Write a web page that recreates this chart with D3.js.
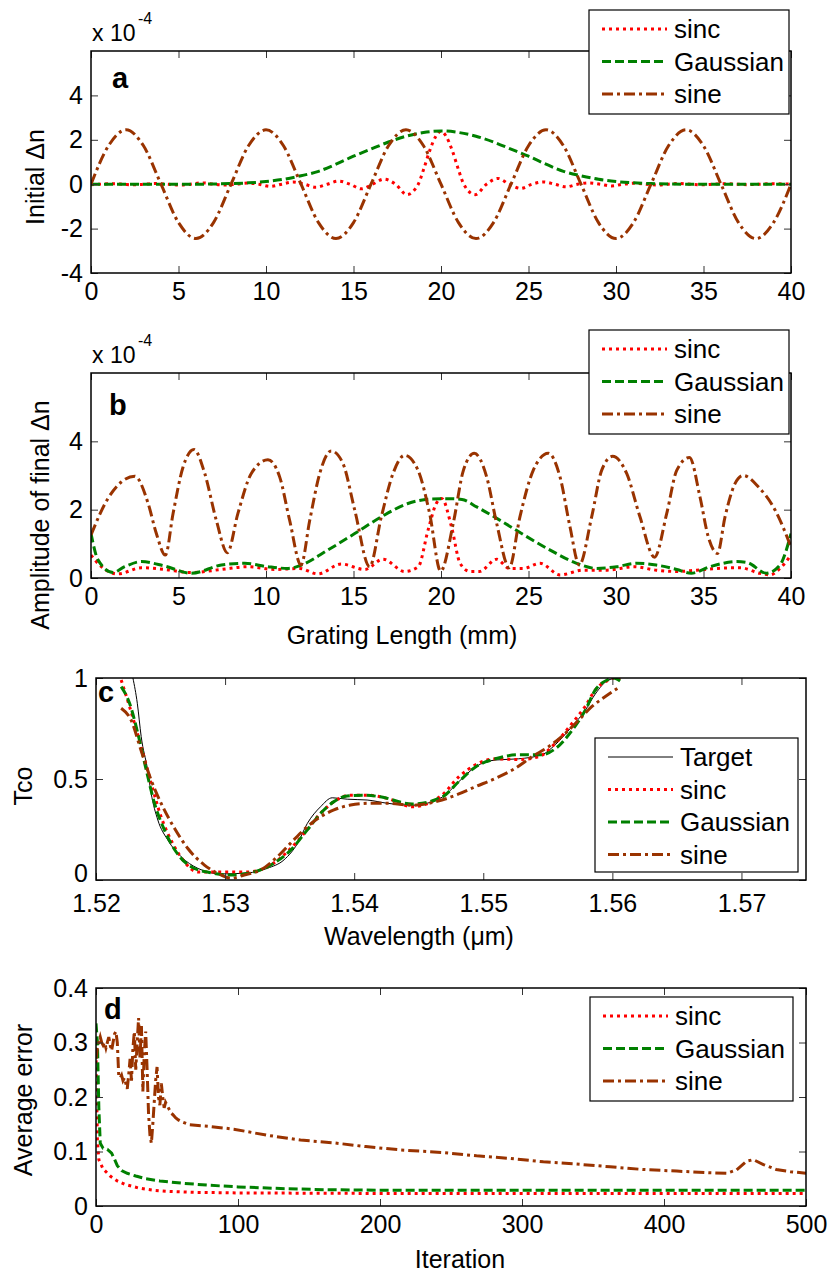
<!DOCTYPE html>
<html>
<head>
<meta charset="utf-8">
<script src="https://cdn.jsdelivr.net/npm/d3@7"></script>
<style>
body { margin: 0; background: #fff; }
text { font-family: "Liberation Sans", Arial, sans-serif; fill: #000; }
</style>
</head>
<body>
<div id="chart"></div>
<script>
// ---- panel a : initial index change (x 1e-4) ----
var gridA = d3.range(0, 41);
var sineA = [0, 1.73, 2.45, 1.73, 0, -1.73, -2.45, -1.73, 0, 1.73, 2.45, 1.73, 0, -1.73, -2.45, -1.73,
             0, 1.73, 2.45, 1.73, 0, -1.73, -2.45, -1.73, 0, 1.73, 2.45, 1.73, 0, -1.73, -2.45, -1.73,
             0, 1.73, 2.45, 1.73, 0, -1.73, -2.45, -1.73, 0];
var gaussA = [0, 0, 0, 0, 0, 0, 0, 0.01, 0.03, 0.06, 0.12, 0.22, 0.38, 0.58, 0.9, 1.26, 1.58, 1.9, 2.16, 2.33,
              2.4, 2.33, 2.16, 1.9, 1.58, 1.26, 0.9, 0.58, 0.38, 0.22, 0.12, 0.06, 0.03, 0.01, 0, 0, 0, 0, 0, 0, 0];
var sincAx = [0, 0.5, 1.15, 1.8, 2.45, 3.1, 3.75, 4.4, 5.05, 5.7, 6.35, 7.0, 7.65, 8.3, 8.95, 9.6, 10.25, 10.9,
              11.55, 12.2, 12.85, 13.5, 14.15, 14.8, 15.45, 16.1, 16.75, 17.4, 18.05, 18.7, 19.0, 19.35, 19.7, 20,
              20.3, 20.65, 21.0, 21.3, 21.95, 22.6, 23.25, 23.9, 24.55, 25.2, 25.85, 26.5, 27.15, 27.8, 28.45, 29.1,
              29.75, 30.4, 31.05, 31.7, 32.35, 33.0, 33.65, 34.3, 34.95, 35.6, 36.25, 36.9, 37.55, 38.2, 38.85, 40];
var sincAy = [-0.03, 0, 0.02, 0, -0.03, 0, 0.03, 0, -0.04, 0, 0.06, 0, -0.04, 0, 0.05, 0, -0.1, 0,
              0.1, 0, -0.14, 0, 0.14, 0, -0.21, 0, 0.23, 0, -0.47, 0, 0.65, 1.5, 2.15, 2.38,
              2.15, 1.5, 0.65, 0, -0.47, 0, 0.26, 0, -0.19, 0, 0.1, 0, -0.12, 0, 0.06, 0,
              -0.08, 0, 0.04, 0, -0.04, 0, 0.03, 0, -0.03, 0, 0.02, 0, -0.02, 0, 0.02, 0];

// ---- panel b : amplitude of final index change (x 1e-4) ----
var sineBx = [0, 0.97, 1.73, 2.5, 3.26, 3.73, 4.25, 4.69, 5.26, 5.89, 6.5, 7.16, 7.79, 8.4, 9.16, 10.11, 10.78,
              11.35, 12.0, 12.5, 13.07, 13.73, 14.4, 15.07, 15.92, 16.59, 17.26, 17.92, 18.69, 19.35, 19.98, 20.7,
              21.28, 21.9, 22.61, 23.18, 23.9, 24.51, 25.27, 26.13, 26.8, 27.37, 27.9, 28.61, 29.18, 29.8, 30.61,
              31.37, 32.2, 32.9, 33.47, 34.2, 34.8, 35.27, 35.8, 36.23, 36.8, 37.27, 38.13, 39.09, 40];
var sineBy = [1.26, 2.33, 2.81, 2.98, 2.19, 1.31, 0.67, 1.89, 3.25, 3.76, 3.06, 1.69, 0.74, 1.9, 3.06, 3.46, 2.96,
              1.69, 0.38, 1.69, 3.06, 3.72, 3.35, 1.99, 0.33, 1.79, 3.06, 3.59, 3.15, 1.89, 0.2, 1.6,
              3.15, 3.65, 2.96, 1.6, 0.3, 1.79, 3.15, 3.65, 2.96, 1.5, 0.38, 1.79, 3.15, 3.56, 3.06,
              1.79, 0.61, 1.89, 3.15, 3.53, 2.37, 1.21, 0.72, 1.79, 2.76, 3.0, 2.67, 1.99, 0.91];
var gaussBx = [0, 0.4, 1.26, 1.92, 2.88, 4.2, 5.73, 7.45, 8.78, 10.11, 11.26, 12.02, 13.54, 15.07, 16.59, 18.11,
               19.45, 20.5, 21.2, 22.04, 23.37, 24.9, 26.4, 27.75, 28.9, 30.04, 31.18, 32.3, 33.47, 34.3, 35.37,
               36.9, 37.5, 38.6, 39.37, 40];
var gaussBy = [1.3, 0.53, 0.16, 0.33, 0.48, 0.35, 0.14, 0.38, 0.43, 0.33, 0.28, 0.38, 0.82, 1.3, 1.79, 2.18,
               2.31, 2.32, 2.3, 2.08, 1.69, 1.21, 0.77, 0.43, 0.28, 0.33, 0.43, 0.38, 0.25, 0.14, 0.33,
               0.48, 0.45, 0.14, 0.38, 1.3];
var sincBx = [0, 0.59, 1.54, 2.88, 4.2, 5.73, 7.45, 8.97, 10.5, 11.9, 12.97, 14.3, 15.64, 16.69, 17.92, 18.7,
              19.26, 19.73, 20.04, 20.6, 21.09, 21.66, 22.2, 23.18, 23.9, 24.7, 25.66, 26.8, 28.13, 29.5, 31.0,
              32.3, 33.47, 34.6, 35.8, 37.1, 38.2, 38.8, 39.37, 40];
var sincBy = [0.67, 0.33, 0.12, 0.3, 0.25, 0.16, 0.25, 0.33, 0.25, 0.28, 0.12, 0.41, 0.25, 0.55, 0.19, 0.33,
              1.4, 2.18, 2.33, 1.5, 0.43, 0.19, 0.19, 0.55, 0.28, 0.28, 0.43, 0.09, 0.23, 0.23, 0.33,
              0.23, 0.19, 0.23, 0.28, 0.3, 0.14, 0.09, 0.28, 0.67];

// ---- panel c : transmission spectra ----
var targetCx = [1.52286, 1.5232, 1.5235, 1.524, 1.52427, 1.52479, 1.52556, 1.5266, 1.52788, 1.52968, 1.53174,
                1.53328, 1.53457, 1.5356, 1.53637, 1.5374, 1.5383, 1.53946, 1.541, 1.54255, 1.5445, 1.54682,
                1.54811, 1.5494, 1.55094, 1.55274, 1.55454, 1.55558, 1.55687, 1.5579, 1.55867, 1.5597, 1.56046];
var targetCy = [1.0, 0.875, 0.71, 0.545, 0.43, 0.297, 0.198, 0.115, 0.058, 0.03, 0.035,
                0.058, 0.1, 0.18, 0.28, 0.363, 0.407, 0.4, 0.396, 0.38, 0.37, 0.41,
                0.487, 0.56, 0.594, 0.6, 0.62, 0.67, 0.76, 0.84, 0.92, 0.99, 1.0];
var sincCx = [1.52195, 1.5226, 1.5235, 1.52427, 1.52504, 1.52595, 1.52685, 1.52788, 1.52968, 1.53174, 1.53328,
              1.53483, 1.53611, 1.5374, 1.53843, 1.53972, 1.541, 1.54255, 1.5445, 1.5468, 1.5481, 1.5494,
              1.55094, 1.55274, 1.55428, 1.55558, 1.55687, 1.5579, 1.55867, 1.5597, 1.56021, 1.5606];
var sincCy = [0.99, 0.858, 0.66, 0.48, 0.313, 0.18, 0.09, 0.04, 0.04, 0.04, 0.065,
              0.14, 0.23, 0.33, 0.388, 0.42, 0.42, 0.404, 0.363, 0.42, 0.51, 0.57,
              0.6, 0.596, 0.61, 0.677, 0.775, 0.86, 0.94, 0.99, 1.0, 0.99];
var gaussCx = [1.52195, 1.5226, 1.52324, 1.52389, 1.52453, 1.5253, 1.5262, 1.52736, 1.5289, 1.53045, 1.532,
               1.53354, 1.53508, 1.53637, 1.5374, 1.53843, 1.53946, 1.54075, 1.54203, 1.5445, 1.5468, 1.5481,
               1.5494, 1.55094, 1.55274, 1.55454, 1.55558, 1.55687, 1.5579, 1.55867, 1.5596, 1.5601, 1.5606];
var gaussCy = [0.957, 0.875, 0.726, 0.545, 0.38, 0.248, 0.14, 0.066, 0.036, 0.025, 0.036,
               0.074, 0.148, 0.248, 0.33, 0.388, 0.416, 0.42, 0.412, 0.376, 0.41, 0.487,
               0.56, 0.6, 0.62, 0.62, 0.65, 0.74, 0.84, 0.94, 0.99, 1.0, 0.985];
var sineCx = [1.52195, 1.52273, 1.5235, 1.52427, 1.52517, 1.52608, 1.5271, 1.5284, 1.52968, 1.53045, 1.53148,
              1.53277, 1.53405, 1.53534, 1.53637, 1.5374, 1.53843, 1.53972, 1.54126, 1.54255, 1.5445, 1.5468,
              1.5481, 1.5494, 1.55094, 1.55248, 1.55377, 1.55506, 1.55635, 1.55737, 1.5584, 1.55943, 1.5606];
var sineCy = [0.85, 0.79, 0.64, 0.495, 0.363, 0.256, 0.157, 0.074, 0.025, 0.008, 0.025,
              0.05, 0.115, 0.2, 0.264, 0.313, 0.347, 0.371, 0.38, 0.38, 0.37, 0.396,
              0.426, 0.462, 0.503, 0.553, 0.61, 0.66, 0.726, 0.79, 0.858, 0.907, 0.957];

// ---- panel d : average error vs iteration ----
var sincDx = [0, 1, 2, 5, 10, 15, 20, 30, 40, 50, 70, 100, 200, 300, 400, 500];
var sincDy = [0.28, 0.12, 0.085, 0.068, 0.055, 0.046, 0.04, 0.033, 0.029, 0.027, 0.025, 0.024, 0.023, 0.023, 0.023, 0.023];
var gaussDx = [0, 1, 2, 3, 5, 8, 11, 13, 15, 18, 22, 28, 35, 45, 60, 80, 100, 130, 160, 200, 300, 400, 500];
var gaussDy = [0.335, 0.3, 0.18, 0.115, 0.106, 0.104, 0.097, 0.086, 0.074, 0.065, 0.06, 0.055, 0.05, 0.046,
               0.042, 0.038, 0.035, 0.032, 0.03, 0.029, 0.029, 0.029, 0.029];
var sineDx = [0, 1, 2, 3, 4, 5, 6, 7, 8, 9, 10, 11, 12, 13, 14, 15, 16, 17, 18, 19, 20, 21, 22, 23, 24, 25, 26,
              27, 28, 29, 30, 31, 32, 33, 34, 35, 36, 37, 38, 39, 40, 41, 42, 43, 44, 45, 46, 47, 48, 49, 50,
              51, 52, 53, 54, 55, 56, 58, 60, 66, 80, 97, 120, 144, 167, 190, 214, 245, 268, 291, 315, 338,
              362, 385, 409, 432, 444, 451, 458, 463, 470, 479, 489, 500];
var sineDy = [0.27, 0.29, 0.3, 0.31, 0.3, 0.295, 0.3, 0.29, 0.3, 0.31, 0.295, 0.285, 0.3, 0.315, 0.32, 0.3,
              0.24, 0.235, 0.24, 0.23, 0.235, 0.225, 0.215, 0.24, 0.27, 0.23, 0.29, 0.32, 0.25, 0.3, 0.345,
              0.27, 0.33, 0.21, 0.28, 0.32, 0.25, 0.17, 0.13, 0.115, 0.15, 0.19, 0.23, 0.255, 0.2, 0.185,
              0.225, 0.2, 0.18, 0.19, 0.185, 0.18, 0.175, 0.17, 0.168, 0.165, 0.162, 0.158, 0.155, 0.149,
              0.146, 0.141, 0.13, 0.121, 0.116, 0.109, 0.103, 0.098, 0.092, 0.0875, 0.081, 0.077, 0.072,
              0.067, 0.064, 0.061, 0.06, 0.066, 0.082, 0.085, 0.076, 0.067, 0.063, 0.06];

var labels = { target: "Target", sinc: "sinc", gauss: "Gaussian", sine: "sine" };
var colors = { target: "#000000", sinc: "#ff0000", gauss: "#008000", sine: "#993300" };
var dashes = { target: null, sinc: "3,4", gauss: "9,4", sine: "11,4,3,4" };
var widths = { target: 1, sinc: 3, gauss: 3, sine: 3 };

// matlab prints a plain hyphen, not the unicode minus
var intFmt = function(d) { return String(d); };

var svg = d3.select("#chart").append("svg")
  .attr("width", 830)
  .attr("height", 1272);

svg.append("rect").attr("width", 830).attr("height", 1272).attr("fill", "#fff");

function panel(o) {
  var x = d3.scaleLinear().domain(o.xDomain).range([o.left, o.right]);
  var y = d3.scaleLinear().domain(o.yDomain).range([o.bottom, o.top]);
  var g = svg.append("g");

  g.append("clipPath").attr("id", o.id)
    .append("rect")
    .attr("x", o.left).attr("y", o.top)
    .attr("width", o.right - o.left).attr("height", o.bottom - o.top);

  var line = d3.line()
    .x(d => x(d[0]))
    .y(d => y(d[1]))
    .curve(o.curve);

  o.series.forEach(function(s) {
    g.append("path")
      .attr("d", line(d3.zip(s.xs, s.ys)))
      .attr("clip-path", "url(#" + o.id + ")")
      .attr("fill", "none")
      .attr("stroke", colors[s.key])
      .attr("stroke-width", widths[s.key])
      .attr("stroke-dasharray", dashes[s.key]);
  });

  // axes with inward ticks on all four sides (matlab box)
  g.append("g").attr("transform", "translate(0," + o.bottom + ")")
    .call(d3.axisBottom(x).tickValues(o.xTicks).tickFormat(o.xFormat).tickSize(-7).tickSizeOuter(0).tickPadding(o.xPad || 9));
  var yAxis = g.append("g").attr("transform", "translate(" + o.left + ",0)")
    .call(d3.axisLeft(y).tickValues(o.yTicks).tickFormat(o.yFormat).tickSize(-7).tickSizeOuter(0).tickPadding(8));
  g.append("g").attr("transform", "translate(0," + o.top + ")")
    .call(d3.axisTop(x).tickValues(o.xTicks).tickFormat("").tickSize(-7).tickSizeOuter(0));
  g.append("g").attr("transform", "translate(" + o.right + ",0)")
    .call(d3.axisRight(y).tickValues(o.yTicks).tickFormat("").tickSize(-7).tickSizeOuter(0));

  // lift the bottom y label a little when it crowds the first x label
  if (o.liftZero) {
    yAxis.selectAll(".tick text").filter(d => d === o.yDomain[0]).attr("dy", "0.05em");
  }

  g.selectAll(".domain").remove();
  g.selectAll(".tick line").attr("stroke", "#333").attr("stroke-width", 1);
  g.selectAll(".tick text").style("font-size", "25px").style("font-family", "Liberation Sans, Arial, sans-serif").attr("fill", "#000");

  g.append("rect")
    .attr("x", o.left).attr("y", o.top)
    .attr("width", o.right - o.left).attr("height", o.bottom - o.top)
    .attr("fill", "none").attr("stroke", "#000").attr("stroke-width", 1.5);

  // panel letter
  g.append("text").attr("x", o.letterX).attr("y", o.letterY)
    .style("font-size", "29px").style("font-weight", "bold")
    .text(o.letter);

  // y label
  g.append("text")
    .attr("transform", "translate(" + o.yLabelX + "," + o.yLabelY + ") rotate(-90)")
    .attr("text-anchor", "middle")
    .style("font-size", "25px")
    .text(o.yLabel);

  if (o.xLabel) {
    g.append("text").attr("x", o.xLabelX).attr("y", o.xLabelY)
      .attr("text-anchor", "middle")
      .style("font-size", "25px")
      .text(o.xLabel);
  }

  if (o.exponent) {
    g.append("text").attr("x", o.left + 1).attr("y", o.expY)
      .style("font-size", "23px").text("x 10");
    g.append("text").attr("x", o.left + 47).attr("y", o.expY - 17)
      .style("font-size", "16px").text("-4");
  }

  // legend
  var L = o.legend;
  var lg = g.append("g");
  lg.append("rect")
    .attr("x", L.x).attr("y", L.y).attr("width", L.w).attr("height", L.h)
    .attr("fill", "#fff").attr("stroke", "#000").attr("stroke-width", 1.2);
  o.series.forEach(function(s, i) {
    var ry = L.y + 19 + i * 32.5;
    lg.append("line")
      .attr("x1", L.x + 13).attr("x2", L.x + 78)
      .attr("y1", ry).attr("y2", ry)
      .attr("stroke", colors[s.key])
      .attr("stroke-width", widths[s.key])
      .attr("stroke-dasharray", dashes[s.key]);
    lg.append("text")
      .attr("x", L.x + 85).attr("y", ry + 9)
      .style("font-size", "26px")
      .text(labels[s.key]);
  });
}

function main() {
  panel({
    id: "clipA", left: 91, right: 791, top: 51, bottom: 273,
    xDomain: [0, 40], yDomain: [-4, 6],
    xTicks: d3.range(0, 41, 5), yTicks: [-4, -2, 0, 2, 4],
    xFormat: intFmt, yFormat: intFmt,
    curve: d3.curveMonotoneX,
    series: [
      { key: "sinc", xs: sincAx, ys: sincAy },
      { key: "gauss", xs: gridA, ys: gaussA },
      { key: "sine", xs: gridA, ys: sineA }
    ],
    letter: "a", letterX: 112, letterY: 88,
    yLabel: "Initial \u0394n", yLabelX: 44, yLabelY: 177,
    exponent: true, expY: 41,
    legend: { x: 589, y: 10, w: 200, h: 104 }
  });

  panel({
    id: "clipB", left: 91, right: 791, top: 373, bottom: 578,
    xDomain: [0, 40], yDomain: [0, 6],
    xTicks: d3.range(0, 41, 5), yTicks: [0, 2, 4],
    xFormat: intFmt, yFormat: intFmt,
    curve: d3.curveMonotoneX,
    series: [
      { key: "sinc", xs: sincBx, ys: sincBy },
      { key: "gauss", xs: gaussBx, ys: gaussBy },
      { key: "sine", xs: sineBx, ys: sineBy }
    ],
    letter: "b", letterX: 109, letterY: 415,
    yLabel: "Amplitude of final \u0394n", yLabelX: 49, yLabelY: 515,
    xLabel: "Grating Length (mm)", xLabelX: 402, xLabelY: 644,
    exponent: true, expY: 363,
    legend: { x: 589, y: 330, w: 200, h: 104 }
  });

  panel({
    id: "clipC", left: 96, right: 806, top: 678, bottom: 880,
    xDomain: [1.52, 1.575], yDomain: [0, 1],
    xTicks: [1.52, 1.53, 1.54, 1.55, 1.56, 1.57], yTicks: [0, 0.5, 1],
    xFormat: d3.format(".2f"), yFormat: intFmt, xPad: 14, liftZero: true,
    curve: d3.curveMonotoneX,
    series: [
      { key: "target", xs: targetCx, ys: targetCy },
      { key: "sinc", xs: sincCx, ys: sincCy },
      { key: "gauss", xs: gaussCx, ys: gaussCy },
      { key: "sine", xs: sineCx, ys: sineCy }
    ],
    letter: "c", letterX: 98, letterY: 702,
    yLabel: "Tco", yLabelX: 32, yLabelY: 786,
    xLabel: "Wavelength (\u03bcm)", xLabelX: 419, xLabelY: 945,
    legend: { x: 595, y: 738, w: 203, h: 134 }
  });

  panel({
    id: "clipD", left: 96, right: 806, top: 988, bottom: 1206,
    xDomain: [0, 500], yDomain: [0, 0.4],
    xTicks: d3.range(0, 501, 100), yTicks: [0, 0.1, 0.2, 0.3, 0.4],
    xFormat: intFmt, yFormat: intFmt,
    curve: d3.curveLinear,
    series: [
      { key: "sinc", xs: sincDx, ys: sincDy },
      { key: "gauss", xs: gaussDx, ys: gaussDy },
      { key: "sine", xs: sineDx, ys: sineDy }
    ],
    letter: "d", letterX: 104, letterY: 1019,
    yLabel: "Average error", yLabelX: 32, yLabelY: 1100,
    xLabel: "Iteration", xLabelX: 460, xLabelY: 1268,
    legend: { x: 590, y: 997, w: 203, h: 104 }
  });
}

main();
</script>
</body>
</html>
